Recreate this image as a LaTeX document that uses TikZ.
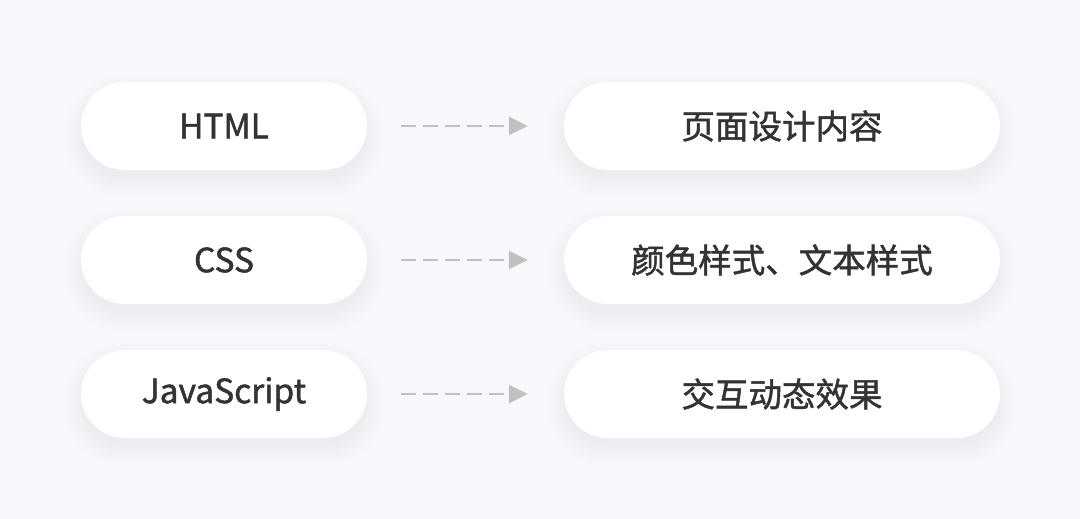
\documentclass[tikz,border=0pt]{standalone}
\usepackage{fontspec}
\setmainfont{Noto Sans CJK SC}
\newfontfamily\pillfont{Noto Sans CJK SC}[FakeBold=1.4]
\usetikzlibrary{arrows.meta}
\definecolor{bg}{HTML}{F7F8FB}
\definecolor{txt}{HTML}{333333}
\definecolor{arr}{HTML}{C0C0C2}
\newcommand{\mypill}[5]{%
  \foreach \i in {1,...,11}{%
    \fill[black,opacity=0.0058,rounded corners={40pt+\i*2pt}]
      ({#2-#4/2+4-\i*2},{#3-40-\i*2+10}) rectangle ({#2+#4/2-4+\i*2},{#3+40+\i*2+10});
  }%
  \node[pill,minimum width=#4pt] (#1) at (#2,#3) {#5};%
}
\begin{document}
\begin{tikzpicture}[x=1pt,y=-1pt,
  pill/.style={fill=white,draw=none,rounded corners=44pt,minimum height=88pt,
    inner sep=0pt,text=txt,font=\pillfont\fontsize{33.5}{40}\selectfont},
  conn/.style={draw=arr,line width=2.8pt,dash pattern=on 15pt off 7pt,
    -{Triangle[length=19pt,width=18pt]},shorten <=34pt,shorten >=36pt}]
\fill[bg] (0,0) rectangle (1080,519);
\useasboundingbox (0,0) rectangle (1080,519);
\mypill{a1}{224}{126}{286}{HTML}
\mypill{b1}{782}{126}{436}{页面设计内容}
\mypill{a2}{224}{260}{286}{CSS}
\mypill{b2}{782}{260}{436}{颜色样式、文本样式}
\mypill{a3}{224}{394}{286}{JavaScript}
\mypill{b3}{782}{394}{436}{交互动态效果}
\draw[conn] (a1) -- (b1);
\draw[conn] (a2) -- (b2);
\draw[conn] (a3) -- (b3);
\end{tikzpicture}
\end{document}
